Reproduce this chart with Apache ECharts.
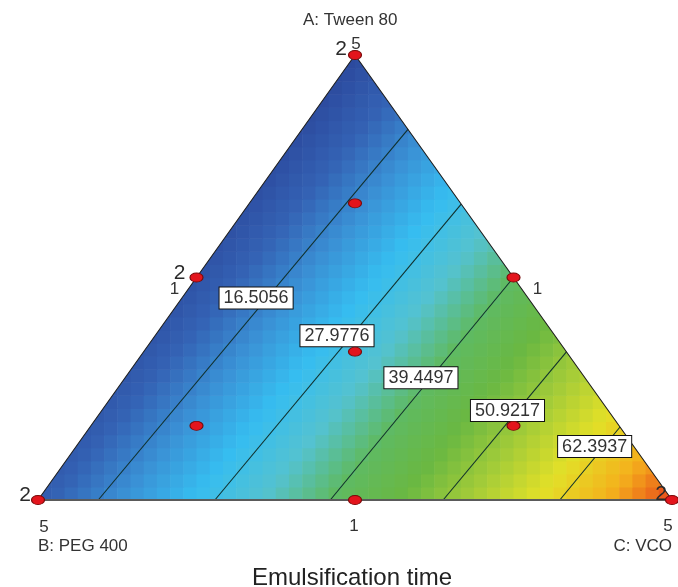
<!DOCTYPE html>
<html>
<head>
<meta charset="utf-8">
<title>Emulsification time</title>
<script src="https://cdn.jsdelivr.net/npm/echarts@6/dist/echarts.min.js"></script>
<style>
  html, body { margin: 0; padding: 0; background: #fff; }
  #chart { width: 678px; height: 587px; }
</style>
</head>
<body>
<div id="chart"></div>
<script>
// mixture components
const componentNames = ['A: Tween 80', 'B: PEG 400', 'C: VCO'];
const chartTitle = 'Emulsification time';

// response surface (Scheffe quadratic mixture model)
const blendCoef = [5.0336, 10.6, 73.8657];   // A, B, C
const interactionCoef = [0, 0, -1.3];        // AB, AC, BC
const responseRange = [5.0336, 73.8657];

// contour levels, where each one meets the B-C edge (C value) and the A-C edge (A value)
const contourLevels = [16.5056, 27.9776, 39.4497, 50.9217, 62.3937];
const contourBottomC = [0.095, 0.279, 0.461, 0.639, 0.823];
const contourEdgeA = [0.833, 0.665, 0.5, 0.333, 0.164];

// design points (A, B, C)
const designA = [1, 0, 0, 0.5, 0.5, 0, 1 / 3, 2 / 3, 1 / 6, 1 / 6];
const designB = [0, 1, 0, 0.5, 0, 0.5, 1 / 3, 1 / 6, 2 / 3, 1 / 6];
const designC = [0, 0, 1, 0, 0.5, 0.5, 1 / 3, 1 / 6, 1 / 6, 2 / 3];

// replicate counts printed next to some design points
const replicateIndex = [0, 1, 2, 3];
const replicateText = ['2', '2', '2', '2'];

// axis tick labels at vertices and edge midpoints
const tickText = ['5', '5', '5', '1', '1', '1'];
const tickA = [1, 0, 0, 0.5, 0.5, 0];
const tickB = [0, 1, 0, 0.5, 0, 0.5];
const tickC = [0, 0, 1, 0, 0.5, 0.5];

// ---- layout (not data) ----
const contourLabelAt = [[0.344, 0.454], [0.4716, 0.369], [0.604, 0.275], [0.7405, 0.201], [0.878, 0.12]];
const tickOffset = [[1, -11], [6, 27], [-4, 26], [-22, 12], [24, 12], [-1, 26]];
const replicateOffset = [[-14, -6], [-13, -5], [-11, -6], [-17, -4]];
const nx = 48, ny = 34; // pixel grid of the surface
const surfaceColors = ['#2c4a9e', '#3462b4', '#3a92d6', '#36bdf0', '#54c2d0', '#5fba62',
  '#6ab842', '#a4cc38', '#e2e028', '#f4b21c', '#e8461a'];

function toXY(a, b, c) {
  return [c + a / 2, a];
}
function response(a, b, c) {
  return blendCoef[0] * a + blendCoef[1] * b + blendCoef[2] * c +
    interactionCoef[0] * a * b + interactionCoef[1] * a * c + interactionCoef[2] * b * c;
}

// surface cells
let cells = [];
for (let j = 0; j < ny; j++) {
  for (let i = 0; i < nx; i++) {
    let x0 = i / nx, x1 = (i + 1) / nx, y0 = j / ny, y1 = (j + 1) / ny;
    let a = Math.min(1, Math.max(0, (y0 + y1) / 2));
    let c = (x0 + x1) / 2 - a / 2;
    c = Math.min(1 - a, Math.max(0, c));
    let b = Math.max(0, 1 - a - c);
    if ((x1 < y0 / 2) || (x0 > 1 - y0 / 2)) continue;
    cells.push([x0, y0, x1, y1, response(a, b, c)]);
  }
}

let series = [];
series.push({
  type: 'custom',
  z: 1,
  silent: true,
  renderItem: function (params, api) {
    let p0 = api.coord([api.value(0), api.value(3)]);
    let p1 = api.coord([api.value(2), api.value(1)]);
    return {
      type: 'rect',
      shape: { x: p0[0], y: p0[1], width: p1[0] - p0[0] + 0.6, height: p1[1] - p0[1] + 0.6 },
      style: { fill: api.visual('color') }
    };
  },
  data: cells
});

// white masks outside the triangle
series.push({
  type: 'custom',
  z: 2,
  silent: true,
  renderItem: function (params, api) {
    let left = [[-0.02, -0.02], [0, -0.02], [0, 0], [0.5, 1], [0.5, 1.03], [-0.02, 1.03]].map(p => api.coord(p));
    let right = [[1.02, -0.02], [1, -0.02], [1, 0], [0.5, 1], [0.5, 1.03], [1.02, 1.03]].map(p => api.coord(p));
    let bottom = [[-0.02, -0.03], [1.02, -0.03], [1.02, 0], [-0.02, 0]].map(p => api.coord(p));
    return {
      type: 'group',
      children: [
        { type: 'polygon', shape: { points: left }, style: { fill: '#fff' } },
        { type: 'polygon', shape: { points: right }, style: { fill: '#fff' } },
        { type: 'polygon', shape: { points: bottom }, style: { fill: '#fff' } }
      ]
    };
  },
  data: [[0]]
});

// triangle outline
series.push({
  type: 'line', z: 4, silent: true, symbol: 'none',
  data: [[0, 0], [0.5, 1], [1, 0]],
  lineStyle: { color: '#1e1e1e', width: 1.1 }
});
series.push({
  type: 'line', z: 4, silent: true, symbol: 'none',
  data: [[0, 0], [1, 0]],
  lineStyle: { color: '#5a5a5a', width: 2 }
});

// contour lines
for (let k = 0; k < contourLevels.length; k++) {
  let aE = contourEdgeA[k];
  series.push({
    type: 'line', z: 3, silent: true, symbol: 'none',
    data: [toXY(0, 1 - contourBottomC[k], contourBottomC[k]), toXY(aE, 0, 1 - aE)],
    lineStyle: { color: '#10302c', width: 1.1 }
  });
}

// contour labels
series.push({
  type: 'scatter', z: 6, silent: true, symbolSize: 0,
  itemStyle: { opacity: 1 },
  data: contourLevels.map((v, k) => ({ value: [contourLabelAt[k][0], contourLabelAt[k][1], v] })),
  label: {
    show: true, position: 'inside', opacity: 1,
    formatter: p => p.value[2].toFixed(4),
    fontFamily: 'Liberation Sans, Arial, sans-serif', fontSize: 18, color: '#333',
    backgroundColor: '#ffffff', borderColor: '#111', borderWidth: 1, padding: [2, 4, 1, 4]
  }
});

// design points
series.push({
  type: 'scatter', z: 7, silent: true,
  symbol: 'circle', symbolSize: [13, 9],
  itemStyle: { color: '#e3141c', borderColor: '#7a0a0a', borderWidth: 1, opacity: 1 },
  data: designA.map((a, i) => toXY(a, designB[i], designC[i]))
});

// tick labels
series.push({
  type: 'scatter', z: 7, silent: true, symbolSize: 0,
  itemStyle: { opacity: 1 },
  data: tickText.map((t, i) => ({
    value: toXY(tickA[i], tickB[i], tickC[i]),
    label: { offset: tickOffset[i], formatter: t }
  })),
  label: {
    show: true, position: 'inside',
    fontFamily: 'Liberation Sans, Arial, sans-serif', fontSize: 17, color: '#333'
  }
});

// replicate counts
series.push({
  type: 'scatter', z: 5, silent: true, symbolSize: 0,
  itemStyle: { opacity: 1 },
  data: replicateIndex.map((idx, i) => ({
    value: toXY(designA[idx], designB[idx], designC[idx]),
    label: { offset: replicateOffset[i], formatter: replicateText[i] }
  })),
  label: {
    show: true, position: 'inside',
    fontFamily: 'Liberation Sans, Arial, sans-serif', fontSize: 21, color: '#2a2a2a'
  }
});

let option = {
  animation: false,
  backgroundColor: '#fff',
  grid: { left: 38, top: 55, width: 634, height: 445 },
  xAxis: { type: 'value', min: 0, max: 1, show: false },
  yAxis: { type: 'value', min: 0, max: 1, show: false },
  visualMap: {
    type: 'continuous', show: false, seriesIndex: 0, dimension: 4,
    min: responseRange[0], max: responseRange[1],
    inRange: { color: surfaceColors }
  },
  graphic: [
    { type: 'text', left: 303, top: 12, style: { text: componentNames[0], font: '17px "Liberation Sans", Arial, sans-serif', fill: '#333' } },
    { type: 'text', left: 38, top: 538, style: { text: componentNames[1], font: '17px "Liberation Sans", Arial, sans-serif', fill: '#333' } },
    { type: 'text', right: 6, top: 538, style: { text: componentNames[2], font: '17px "Liberation Sans", Arial, sans-serif', fill: '#333' } },
    { type: 'text', left: 252, top: 566, style: { text: chartTitle, font: '24px "Liberation Sans", Arial, sans-serif', fill: '#222' } }
  ],
  series: series
};

let myChart = echarts.init(document.getElementById('chart'));
myChart.setOption(option);
</script>
</body>
</html>
